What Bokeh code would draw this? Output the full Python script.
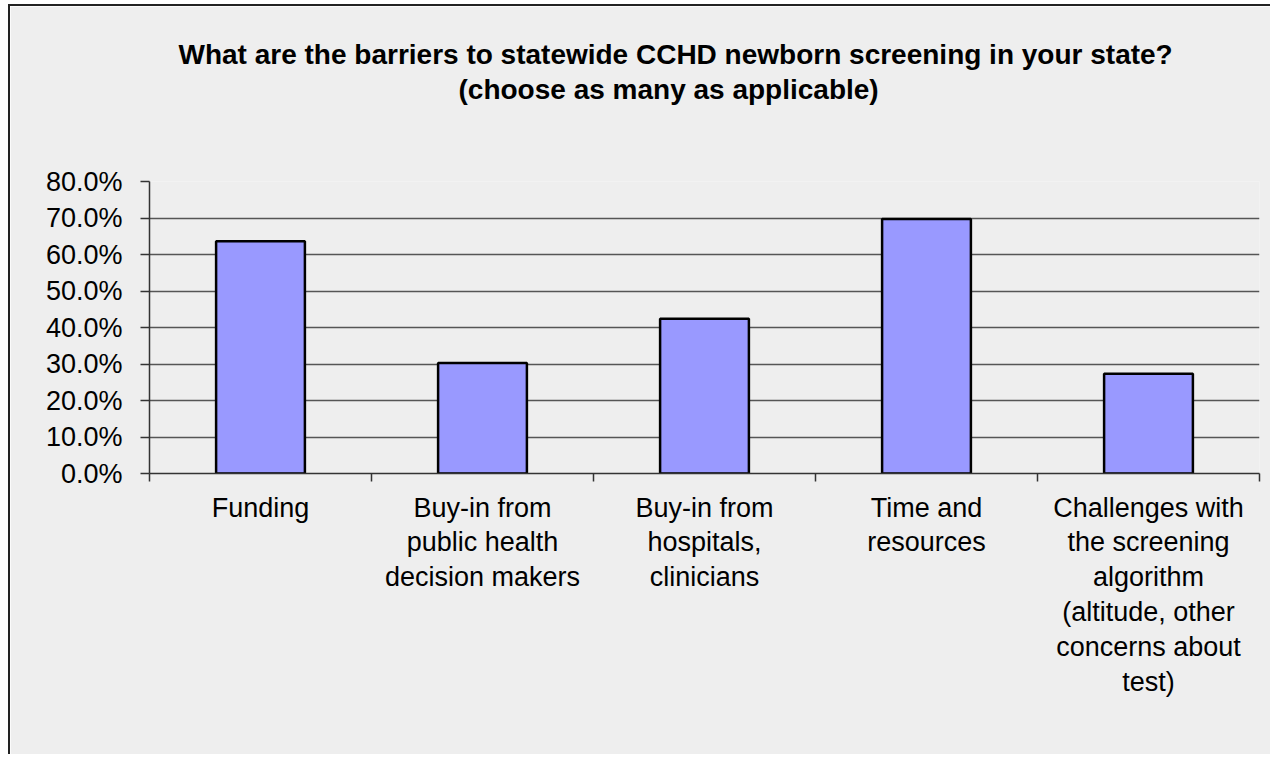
from bokeh.plotting import figure
from bokeh.models import Range1d, FixedTicker, NumeralTickFormatter, Title
from bokeh.embed import file_html
from bokeh.resources import INLINE

# ---- data ----
categories = [
    "Funding",
    "Buy-in from\npublic health\ndecision makers",
    "Buy-in from\nhospitals,\nclinicians",
    "Time and\nresources",
    "Challenges with\nthe screening\nalgorithm\n(altitude, other\nconcerns about\ntest)",
]
values = [0.636, 0.303, 0.424, 0.697, 0.273]
y_ticks = [0.0, 0.1, 0.2, 0.3, 0.4, 0.5, 0.6, 0.7, 0.8]
title_line1 = "What are the barriers to statewide CCHD newborn screening in your state?"
title_line2 = "(choose as many as applicable)"

FONT = "Liberation Sans"
BG = "#eeeeee"

positions = [i + 0.5 for i in range(len(categories))]
boundaries = list(range(len(categories) + 1))

p = figure(
    width=1262, height=750,
    x_range=Range1d(0, len(categories)), y_range=Range1d(0, 0.8),
    output_backend="svg", toolbar_location=None, title=None,
    min_border_left=139, min_border_right=13, min_border_top=175, min_border_bottom=283,
)
p.background_fill_color = BG
p.border_fill_color = BG
p.outline_line_color = None
p.styles = {"border-left": "2px solid #222222", "border-top": "2px solid #222222",
            "margin-left": "8px", "margin-top": "4px"}

p.vbar(x=positions, top=values, bottom=0, width=0.4,
       fill_color="#9999ff", line_color="black", line_width=2.5)

# titles (first added is nearest the plot); a blank spacer keeps them up high
spacer = Title(text=" ", align="left", standoff=72, text_font=FONT,
               text_font_size="2px", text_color=BG)
p.add_layout(spacer, "above")
t2 = Title(text=title_line2, align="left", offset=309, standoff=2,
           text_font=FONT, text_font_size="28px", text_font_style="bold", text_color="black")
p.add_layout(t2, "above")
t1 = Title(text=title_line1, align="left", offset=29, standoff=2,
           text_font=FONT, text_font_size="28px", text_font_style="bold", text_color="black")
p.add_layout(t1, "above")

# y axis
p.yaxis.ticker = FixedTicker(ticks=y_ticks)
p.yaxis.formatter = NumeralTickFormatter(format="0.0%")
p.yaxis.major_label_text_font = FONT
p.yaxis.major_label_text_font_size = "27px"
p.yaxis.major_label_text_color = "black"
p.yaxis.major_label_standoff = 18
p.yaxis.major_tick_out = 9
p.yaxis.major_tick_in = 0
p.yaxis.minor_tick_line_color = None
p.yaxis.axis_line_color = "#333333"
p.yaxis.axis_line_width = 1.5
p.yaxis.major_tick_line_color = "#333333"
p.yaxis.major_tick_line_width = 1.5

# x axis: labels at centres, tick marks at category boundaries
p.xaxis.ticker = FixedTicker(ticks=positions, minor_ticks=boundaries)
p.xaxis.major_label_overrides = {pos: lab for pos, lab in zip(positions, categories)}
p.xaxis.major_label_text_font = FONT
p.xaxis.major_label_text_font_size = "27px"
p.xaxis.major_label_text_color = "black"
p.xaxis.major_label_text_line_height = 1.16
p.xaxis.major_label_standoff = 11
p.xaxis.major_tick_line_color = None
p.xaxis.minor_tick_out = 8
p.xaxis.minor_tick_in = 0
p.xaxis.minor_tick_line_color = "#333333"
p.xaxis.minor_tick_line_width = 1.5
p.xaxis.axis_line_color = "#333333"
p.xaxis.axis_line_width = 1.5

# grid
p.xgrid.visible = False
p.ygrid.ticker = FixedTicker(ticks=y_ticks)
p.ygrid.grid_line_color = "#555555"
p.ygrid.grid_line_width = 1.5

open("out.html", "w").write(file_html(p, INLINE))
